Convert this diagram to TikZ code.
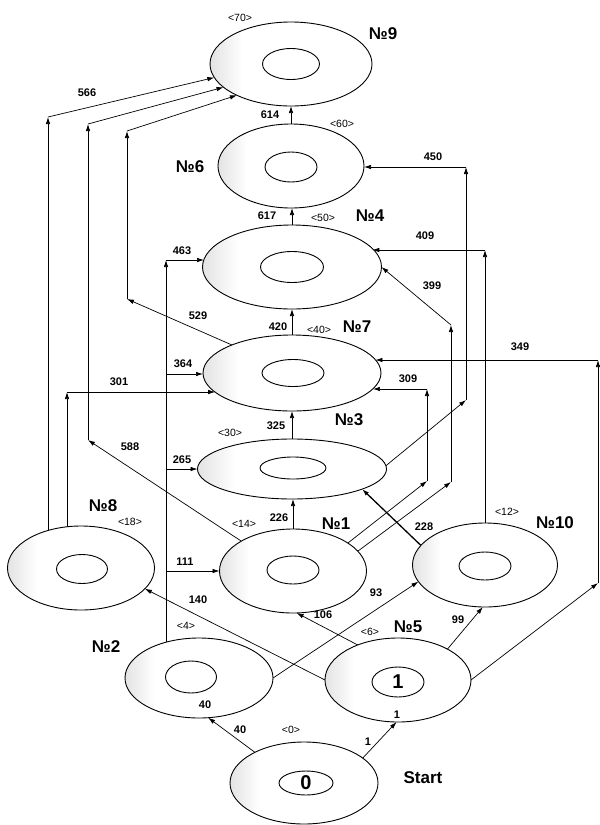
\documentclass[tikz,border=0pt]{standalone}
\usepackage{fontspec}
\setmainfont{Liberation Sans}
\usetikzlibrary{arrows.meta,shapes.geometric,backgrounds}
\pgfdeclarehorizontalshading{ringshade}{100bp}{color(0bp)=(black!11); color(25bp)=(black!11); color(35bp)=(white); color(100bp)=(white)}
\tikzset{
  ring/.style={ellipse, draw, line width=0.9pt, shade, shading=ringshade, inner sep=0pt, outer sep=0pt},
  hole/.style={ellipse, draw, line width=0.9pt, fill=white, inner sep=0pt, outer sep=0pt},
  big/.style={font=\bfseries\fontsize{17}{17}\selectfont, inner sep=0pt},
  num/.style={font=\bfseries\fontsize{11}{11}\selectfont, inner sep=0pt},
  tag/.style={font=\fontsize{10.5}{10.5}\selectfont, inner sep=0pt},
  val/.style={font=\bfseries\fontsize{20}{20}\selectfont, inner sep=0pt},
  arr/.style={-{Latex[length=7pt,width=4.5pt]}, line width=0.7pt},
}
\begin{document}
\begin{tikzpicture}[x=1pt,y=-1pt]
\useasboundingbox (0,0) rectangle (600,825);
% outer rings
\node[ring, minimum width=162pt, minimum height=84pt] (n9) at (291,64) {};
\node[ring, minimum width=146pt, minimum height=84pt] (n6) at (291,166) {};
\node[ring, minimum width=179pt, minimum height=84pt] (n4) at (292,267) {};
\node[ring, minimum width=178pt, minimum height=76pt] (n7) at (292,373) {};
\node[ring, minimum width=189pt, minimum height=60pt] (n3) at (292,469) {};
\node[ring, minimum width=147pt, minimum height=84pt] (n1) at (293,571) {};
\node[ring, minimum width=147pt, minimum height=84pt] (n8) at (81,568) {};
\node[ring, minimum width=145pt, minimum height=84pt] (n10) at (485,565) {};
\node[ring, minimum width=148pt, minimum height=80pt] (n2) at (199,678) {};
\node[ring, minimum width=146pt, minimum height=84pt] (n5) at (398,680) {};
\node[ring, minimum width=148pt, minimum height=82pt] (start) at (304,783) {};
% inner holes
\node[hole, minimum width=57pt, minimum height=31pt] (h9) at (291,64) {};
\node[hole, minimum width=52pt, minimum height=30pt] (h6) at (291,167) {};
\node[hole, minimum width=63pt, minimum height=31pt] (h4) at (292,267) {};
\node[hole, minimum width=62pt, minimum height=27pt] (h7) at (293,373) {};
\node[hole, minimum width=66pt, minimum height=22pt] (h3) at (293,468) {};
\node[hole, minimum width=52pt, minimum height=28pt] (h1) at (293,570) {};
\node[hole, minimum width=51pt, minimum height=29pt] (h8) at (82,569) {};
\node[hole, minimum width=52pt, minimum height=28pt] (h10) at (485,566) {};
\node[hole, minimum width=51pt, minimum height=32pt] (h2) at (191,677) {};
\node[hole, minimum width=52pt, minimum height=30pt, val] (h5) at (398,682) {1};
\node[hole, minimum width=54pt, minimum height=24pt, val] (h0) at (306,783) {0};
% connector corners
\coordinate (c566) at (48,117);
\coordinate (c588a) at (88,440);
\coordinate (c588) at (88,124);
\coordinate (c529a) at (127,299);
\coordinate (c529) at (127,131);
\coordinate (c301) at (67,392);
\coordinate (c463) at (166,260);
\coordinate (c364) at (166,374);
\coordinate (c265) at (166,469);
\coordinate (c111) at (166,571);
\coordinate (c349a) at (598,583);
\coordinate (c349) at (598,360);
\coordinate (c409) at (485,250);
\coordinate (c450a) at (466,400);
\coordinate (c450) at (466,167);
\coordinate (c309a) at (427,481);
\coordinate (c309) at (427,389);
\coordinate (c399a) at (451,482);
\coordinate (c399) at (451,325);
\begin{scope}[on background layer]
\draw[arr] (n6.north) -- (n9.south);
\draw[arr] (n4.north) -- (n4.north |- n6.south);
\draw[arr] (n7.north) -- (n7.north |- n4.south);
\draw[arr] (n3.north) -- (n3.north |- n7.south);
\draw[arr] (n1.north) -- (n1.north |- n3.south);
\draw[arr] (c566 |- n8.center) -- (c566);
\draw[arr] (c566) -- (n9.190);
\draw[arr] (n1.150) -- (c588a);
\draw[arr] (c588a) -- (c588);
\draw[arr] (c588) -- (n9.199);
\draw[arr] (n7.155) -- (c529a);
\draw[arr] (c529a) -- (c529);
\draw[arr] (c529) -- (n9.210);
\draw[arr] (c301 |- n8.center) -- (c301);
\draw[arr] (c301) -- (c301 -| n7.194);
\draw[arr] (c463 |- n2.center) -- (c463);
\draw[arr] (c463) -- (c463 -| n4.175);
\draw[arr] (c364) -- (c364 -| n7.west);
\draw[arr] (c265) -- (c265 -| n3.west);
\draw[arr] (c111) -- (c111 -| n1.west);
\draw[arr] (n5.west) -- (n8.342);
\draw[arr] (n5.139) -- (n1.275);
\draw[arr] (n5.32) -- (n10.267);
\draw[arr] (n5.east) -- (c349a);
\draw[arr] (c349a) -- (c349);
\draw[arr] (c349) -- (c349 -| n7.9);
\draw[arr] (n2.east) -- (n10.194);
\draw[arr, line width=1.3pt] (n10.163) -- (n3.344);
\draw[arr] (c409 |- n10.center) -- (c409);
\draw[arr] (c409) -- (c409 -| n4.13);
\draw[arr] (n3.2) -- (c450a);
\draw[arr] (c450a) -- (c450);
\draw[arr] (c450) -- (c450 -| n6.east);
\draw[arr] (n1.27) -- (c309a);
\draw[arr] (c309a) -- (c309);
\draw[arr] (c309) -- (c309 -| n7.349);
\draw[arr] (n1.17) -- (c399a);
\draw[arr] (c399a) -- (c399);
\draw[arr] (c399) -- (n4.east);
\draw[arr] (start.148) -- (n2.283);
\draw[arr] (start.23) -- (n5.268);
\end{scope}
% big labels
\node[big] (l9) at (383,34) {№9};
\node[big] (l6) at (190,167) {№6};
\node[big] (l4) at (370,216) {№4};
\node[big] (l7) at (357,327) {№7};
\node[big] (l3) at (349,420) {№3};
\node[big] (l8) at (103,506) {№8};
\node[big] (l1) at (336,524) {№1};
\node[big] (l10) at (555,523) {№10};
\node[big] (l2) at (106,647) {№2};
\node[big] (l5) at (408,627) {№5};
\node[big] (lstart) at (423,778) {Start};
% tags
\node[tag] (t70) at (240,18) {<70>};
\node[tag] (t60) at (342,124) {<60>};
\node[tag] (t50) at (323,218) {<50>};
\node[tag] (t40) at (319,330) {<40>};
\node[tag] (t30) at (230,433) {<30>};
\node[tag] (t18) at (130,522) {<18>};
\node[tag] (t14) at (244,524) {<14>};
\node[tag] (t12) at (507,512) {<12>};
\node[tag] (t4) at (186,626) {<4>};
\node[tag] (t6) at (370,632) {<6>};
\node[tag] (t0) at (291,730) {<0>};
% weights
\node[num] (w614) at (270,115) {614};
\node[num] (w450) at (433,157) {450};
\node[num] (w617) at (267,216) {617};
\node[num] (w409) at (425,236) {409};
\node[num] (w463) at (182,251) {463};
\node[num] (w399) at (432,286) {399};
\node[num] (w529) at (198,316) {529};
\node[num] (w420) at (278,327) {420};
\node[num] (w364) at (183,364) {364};
\node[num] (w301) at (119,382) {301};
\node[num] (w309) at (408,379) {309};
\node[num] (w349) at (520,347) {349};
\node[num] (w566) at (87,93) {566};
\node[num] (w325) at (276,426) {325};
\node[num] (w588) at (130,447) {588};
\node[num] (w265) at (182,460) {265};
\node[num] (w226) at (279,518) {226};
\node[num] (w228) at (424,527) {228};
\node[num] (w111) at (185,562) {111};
\node[num] (w140) at (198,600) {140};
\node[num] (w93) at (376,593) {93};
\node[num] (w106) at (323,615) {106};
\node[num] (w99) at (458,620) {99};
\node[num] (v40) at (205,705) {40};
\node[num] (v1) at (397,715) {1};
\node[num] (w40) at (240,730) {40};
\node[num] (w1) at (368,742) {1};
\end{tikzpicture}
\end{document}
